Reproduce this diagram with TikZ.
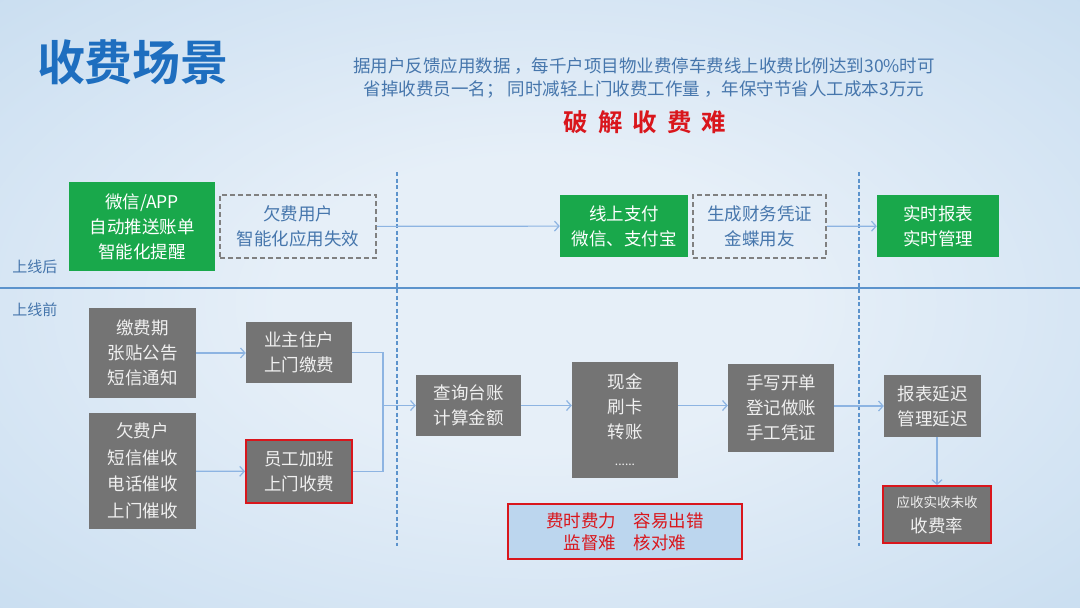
\documentclass[tikz,border=0pt]{standalone}
\usepackage{fontspec}
\setmainfont{Noto Sans CJK SC}[BoldFont={Noto Sans CJK SC Bold}]
\usepackage{tikz}
\usetikzlibrary{positioning,arrows.meta}
\usepackage{xcolor}
\definecolor{bgin}{HTML}{E6EFF8}
\definecolor{bgout}{HTML}{B9D4EC}
\definecolor{titleblue}{HTML}{1E6EBF}
\definecolor{noteblue}{HTML}{4676AC}
\definecolor{linkblue}{HTML}{8DB4E2}
\definecolor{rule}{HTML}{5C93CC}
\definecolor{okgreen}{HTML}{19A84B}
\definecolor{boxgray}{HTML}{747474}
\definecolor{alert}{HTML}{D9161C}
\definecolor{warnfill}{HTML}{BCD6EE}
\pgfdeclareradialshading{bgglow}{\pgfpoint{0bp}{0bp}}{color(0bp)=(bgin); color(12bp)=(bgin); color(50bp)=(bgout); color(72bp)=(bgout)}

\begin{document}
\begin{tikzpicture}[x=1pt, y=-1pt,
    every node/.style={inner sep=0pt, align=center, font=\fontsize{17.5}{25}\selectfont},
    greenbox/.style={fill=okgreen, text=white},
    graybox/.style={fill=boxgray, text=white!94!black},
    redbox/.style={graybox, draw=alert, line width=2pt},
    dashbox/.style={draw=black!50, dashed, dash pattern=on 5pt off 3pt, line width=1.5pt, text=noteblue},
    warnbox/.style={fill=warnfill, draw=alert, line width=1.6pt, text=alert},
    arr/.style={-{Straight Barb[length=4.5pt,width=10pt]}, linkblue, line width=1.2pt},
    link/.style={linkblue, line width=1.2pt}]
    \useasboundingbox (0,0) rectangle (1080,608);
    \shade[shading=bgglow] (0,0) rectangle (1080,608);
    % heading
    \node[titleblue, font=\bfseries\fontsize{48}{48}\selectfont] (title) at (133,62) {收费场景};
    \node[noteblue, font=\fontsize{17.5}{23}\selectfont] (note) at (644,78)
      {据用户反馈应用数据 ，每千户项目物业费停车费线上收费比例达到30\%时可\\省掉收费员一名； 同时减轻上门收费工作量 ，年保守节省人工成本3万元};
    \node[alert, font=\bfseries\fontsize{24.5}{24.5}\selectfont] (slogan) at (645,122)
      {破\hspace{10pt}解\hspace{10pt}收\hspace{10pt}费\hspace{10pt}难};
    % stage rules
    \draw[rule, line width=2.5pt] (0,288) -- (1080,288);
    \foreach \vx in {397,859}
      \draw[rule, line width=1.4pt, dash pattern=on 4pt off 2.5pt] (\vx,172) -- (\vx,546);
    \node[noteblue, font=\fontsize{15}{15}\selectfont] (after) at (35,267) {上线后};
    \node[noteblue, font=\fontsize{15}{15}\selectfont] (before) at (35,310) {上线前};
    % online
    \node[greenbox, minimum width=146, minimum height=89] (wx) at (142,226.5) {微信/APP\\自动推送账单\\智能化提醒};
    \node[dashbox, minimum width=156, minimum height=63] (qf) at (298,226.5) {欠费用户\\智能化应用失效};
    \node[greenbox, minimum width=128, minimum height=62] (xs) at (624,226) {线上支付\\微信、支付宝};
    \node[dashbox, minimum width=133, minimum height=63] (pz) at (759.5,226.5) {生成财务凭证\\金蝶用友};
    \node[greenbox, minimum width=122, minimum height=62] (ss) at (938,226) {实时报表\\实时管理};
    \draw[arr] (qf) -- (xs);
    \draw[arr] (pz) -- (ss);
    % offline
    \node[graybox, minimum width=107, minimum height=90] (jf) at (142.5,353) {缴费期\\张贴公告\\短信通知};
    \node[graybox, minimum width=107, minimum height=116, font=\fontsize{17.5}{26.5}\selectfont] (qfh) at (142.5,471) {欠费户\\短信催收\\电话催收\\上门催收};
    \node[graybox, minimum width=106, minimum height=61] (yz) at (299,352.5) {业主住户\\上门缴费};
    \node[redbox, minimum width=106, minimum height=63] (yg) at (299,471.5) {员工加班\\上门收费};
    \node[graybox, minimum width=105, minimum height=61] (cx) at (468.5,405.5) {查询台账\\计算金额};
    \node[graybox, minimum width=106, minimum height=116] (xj) at (625,420) {现金\\刷卡\\转账\\[2pt]{\fontsize{12}{12}\selectfont ......}};
    \node[graybox, minimum width=106, minimum height=88] (sx) at (781,408) {手写开单\\登记做账\\手工凭证};
    \node[graybox, minimum width=97, minimum height=62] (bb) at (932.5,406) {报表延迟\\管理延迟};
    \node[redbox, minimum width=108, minimum height=57] (sfl) at (937,514.5) {{\fontsize{13.5}{20}\selectfont 应收实收未收}\\收费率};
    \node[warnbox, minimum width=234, minimum height=55, font=\fontsize{17.5}{22}\selectfont] (hard) at (625,531.5) {费时费力\hspace{1em}容易出错\\监督难\hspace{1em}核对难};
    \coordinate (merge) at (383,405.5);
    \draw[arr] (jf) -- (yz.west |- jf.east);
    \draw[arr] (qfh) -- (yg);
    \draw[link] (yz.east) -| (merge);
    \draw[link] (yg.east) -| (merge);
    \draw[arr] (merge) -- (cx.west);
    \draw[arr] (cx.east) -- (cx.east -| xj.west);
    \draw[arr] (cx.east -| xj.east) -- (cx.east -| sx.west);
    \draw[arr] (bb.west -| sx.east) -- (bb.west);
    \draw[arr] (bb.south -| sfl.north) -- (sfl.north);
  \end{tikzpicture}
\end{document}
